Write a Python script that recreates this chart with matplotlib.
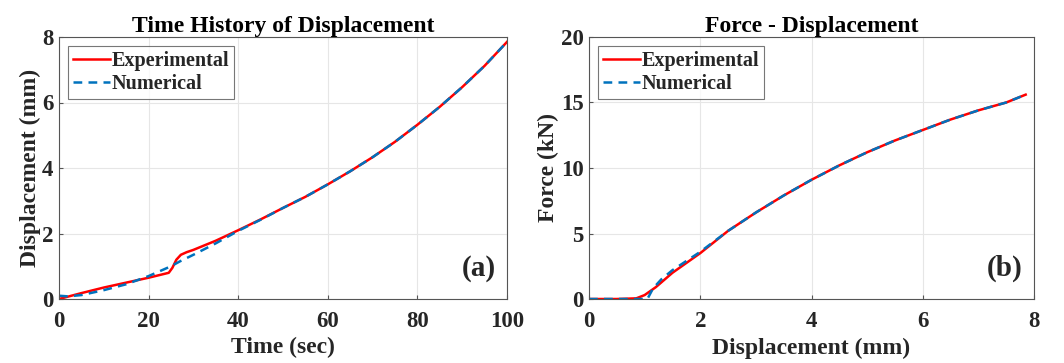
import matplotlib
matplotlib.use("Agg")
import matplotlib.pyplot as plt
import numpy as np

# Panel (a): time history of displacement
t_exp = [0, 5, 10, 15, 20, 24.5, 25.3, 26.2, 27.2, 28.5, 30, 35, 40, 45, 50, 55, 60, 65, 70, 75, 80, 85, 90, 95, 100]
d_exp = [0.0, 0.18, 0.35, 0.50, 0.65, 0.80, 0.95, 1.20, 1.35, 1.43, 1.50, 1.78, 2.10, 2.43, 2.78, 3.12, 3.50, 3.90, 4.33, 4.80, 5.32, 5.87, 6.47, 7.12, 7.85]
t_num = [0, 2, 5, 10, 15, 20, 25, 27, 30, 35, 40, 45, 50, 55, 60, 65, 70, 75, 80, 85, 90, 95, 100]
d_num = [0.10, 0.08, 0.12, 0.27, 0.45, 0.70, 1.00, 1.15, 1.35, 1.70, 2.08, 2.42, 2.78, 3.12, 3.50, 3.90, 4.33, 4.80, 5.32, 5.87, 6.47, 7.12, 7.85]

# Panel (b): force - displacement
x_exp = [0, 0.5, 0.85, 1.0, 1.2, 1.5, 2.0, 2.5, 3.0, 3.5, 4.0, 4.5, 5.0, 5.5, 6.0, 6.5, 7.0, 7.5, 7.85]
f_exp = [0, 0, 0.05, 0.3, 0.9, 2.0, 3.5, 5.2, 6.6, 7.9, 9.1, 10.2, 11.2, 12.1, 12.9, 13.7, 14.4, 15.0, 15.6]
x_num = [0, 0.5, 1.05, 1.15, 1.3, 1.5, 2.0, 2.5, 3.0, 3.5, 4.0, 4.5, 5.0, 5.5, 6.0, 6.5, 7.0, 7.5, 7.85]
f_num = [0, 0, 0, 0.8, 1.5, 2.2, 3.6, 5.2, 6.6, 7.9, 9.1, 10.2, 11.2, 12.1, 12.9, 13.7, 14.4, 15.0, 15.6]

plt.rcParams['font.family'] = ['Liberation Serif', 'DejaVu Serif']
plt.rcParams['font.weight'] = 'bold'

RED = '#FF0000'
BLUE = '#0072BD'
TXT = '#262626'

fig = plt.figure(figsize=(10.64, 3.63), dpi=100)
W, H = 1064, 363
ax1 = fig.add_axes([59 / W, 1 - 299 / H, (507 - 59) / W, (299 - 37) / H])
ax2 = fig.add_axes([589 / W, 1 - 299 / H, (1034 - 589) / W, (299 - 37) / H])

def style(ax, title, xlabel, ylabel, tag):
    ax.set_title(title, fontsize=17, fontweight='bold', pad=3, color='black')
    ax.set_xlabel(xlabel, fontsize=17, fontweight='bold', labelpad=4, color=TXT)
    ax.set_ylabel(ylabel, fontsize=17, fontweight='bold', labelpad=1, color=TXT)
    ax.grid(True, color='#E6E6E6', linewidth=0.8)
    ax.set_axisbelow(True)
    ax.tick_params(labelsize=16.5, direction='in', length=3, color='#555555', labelcolor=TXT)
    ax.tick_params(axis='x', pad=8.5)
    ax.tick_params(axis='y', pad=4)
    for lab in ax.get_xticklabels() + ax.get_yticklabels():
        lab.set_fontweight('bold')
    for s in ax.spines.values():
        s.set_color('#555555')
        s.set_linewidth(0.8)
    leg = ax.legend(loc='upper left', fontsize=14.5, frameon=True, fancybox=False,
                    edgecolor='#555555', handlelength=1.85, handletextpad=0.05,
                    borderpad=0.25, labelspacing=0.15, borderaxespad=0.45)
    leg.get_frame().set_linewidth(0.8)
    for txt in leg.get_texts():
        txt.set_fontweight('bold')
        txt.set_color(TXT)
    ax.text(0.975, 0.065, tag, transform=ax.transAxes, ha='right', va='bottom',
            fontsize=21, fontweight='bold', color=TXT)

ax1.plot(t_exp, d_exp, color=RED, lw=1.8, label='Experimental')
ax1.plot(t_num, d_num, color=BLUE, lw=1.8, ls=(0, (3.5, 2.5)), label='Numerical')
ax1.set_xlim(0, 100)
ax1.set_ylim(0, 8)
ax1.set_xticks([0, 20, 40, 60, 80, 100])
ax1.set_yticks([0, 2, 4, 6, 8])
style(ax1, 'Time History of Displacement', 'Time (sec)', 'Displacement (mm)', '(a)')

ax2.plot(x_exp, f_exp, color=RED, lw=1.8, label='Experimental')
ax2.plot(x_num, f_num, color=BLUE, lw=1.8, ls=(0, (3.5, 2.5)), label='Numerical')
ax2.set_xlim(0, 8)
ax2.set_ylim(0, 20)
ax2.set_xticks([0, 2, 4, 6, 8])
ax2.set_yticks([0, 5, 10, 15, 20])
style(ax2, 'Force - Displacement', 'Displacement (mm)', 'Force (kN)', '(b)')

fig.savefig('out.png', dpi=100)
